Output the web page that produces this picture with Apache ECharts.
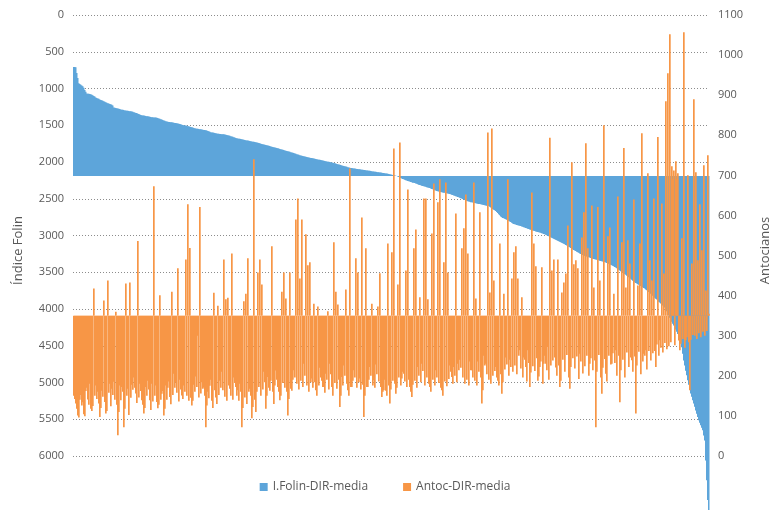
<!DOCTYPE html>
<html>
<head>
<meta charset="utf-8">
<script src="https://cdn.jsdelivr.net/npm/echarts@6/dist/echarts.min.js"></script>
<style>
  html, body { margin: 0; padding: 0; background: #fff; }
  #chart { width: 770px; height: 510px; }
</style>
</head>
<body>
<div id="chart"></div>
<script>
// I.Folin-DIR-media, samples ordered ascending (left axis, inverted)
var folin = [
  707, 707, 712, 790, 857, 930, 940, 950, 958, 970, 990, 1020, 1045, 1067, 1070, 1073, 1075, 1078, 1085, 1092,
  1102, 1110, 1122, 1130, 1136, 1140, 1148, 1155, 1160, 1165, 1172, 1180, 1188, 1195, 1200, 1205, 1210, 1215, 1222, 1230,
  1258, 1262, 1265, 1268, 1272, 1275, 1280, 1285, 1288, 1290, 1294, 1298, 1300, 1302, 1304, 1306, 1308, 1310, 1314, 1318,
  1323, 1328, 1332, 1335, 1342, 1348, 1354, 1360, 1363, 1366, 1368, 1370, 1373, 1376, 1379, 1382, 1385, 1388, 1390, 1392,
  1393, 1394, 1396, 1398, 1403, 1408, 1413, 1418, 1423, 1428, 1434, 1440, 1445, 1450, 1453, 1455, 1457, 1458, 1460, 1462,
  1465, 1468, 1471, 1474, 1477, 1480, 1484, 1488, 1492, 1496, 1499, 1502, 1505, 1508, 1512, 1515, 1520, 1524, 1528, 1532,
  1536, 1540, 1543, 1546, 1548, 1550, 1553, 1555, 1558, 1560, 1563, 1566, 1569, 1572, 1577, 1582, 1588, 1594, 1597, 1600,
  1603, 1606, 1609, 1612, 1614, 1616, 1618, 1620, 1621, 1622, 1624, 1626, 1629, 1632, 1636, 1640, 1644, 1648, 1652, 1656,
  1662, 1668, 1672, 1676, 1679, 1682, 1685, 1688, 1691, 1694, 1697, 1700, 1703, 1706, 1709, 1712, 1715, 1718, 1721, 1724,
  1726, 1728, 1732, 1735, 1738, 1742, 1746, 1750, 1754, 1758, 1762, 1765, 1768, 1772, 1776, 1780, 1784, 1788, 1792, 1796,
  1800, 1803, 1806, 1810, 1814, 1818, 1822, 1826, 1830, 1833, 1838, 1842, 1846, 1850, 1854, 1858, 1862, 1866, 1870, 1874,
  1879, 1884, 1888, 1893, 1898, 1902, 1907, 1912, 1915, 1918, 1922, 1925, 1928, 1932, 1935, 1938, 1941, 1944, 1947, 1950,
  1953, 1956, 1959, 1962, 1965, 1968, 1971, 1974, 1977, 1980, 1983, 1986, 1989, 1992, 1995, 1998, 2001, 2004, 2007, 2010,
  2014, 2018, 2022, 2026, 2030, 2034, 2038, 2042, 2046, 2050, 2054, 2058, 2062, 2066, 2070, 2074, 2077, 2080, 2083, 2086,
  2088, 2090, 2092, 2094, 2096, 2098, 2100, 2102, 2104, 2106, 2108, 2110, 2112, 2114, 2116, 2118, 2120, 2122, 2125, 2128,
  2130, 2132, 2134, 2136, 2138, 2140, 2142, 2144, 2146, 2148, 2150, 2152, 2155, 2158, 2161, 2164, 2167, 2170, 2173, 2176,
  2179, 2182, 2187, 2192, 2198, 2204, 2211, 2218, 2224, 2230, 2236, 2242, 2247, 2252, 2257, 2262, 2267, 2272, 2277, 2282,
  2284, 2286, 2291, 2296, 2302, 2308, 2313, 2318, 2322, 2326, 2330, 2334, 2338, 2342, 2346, 2350, 2355, 2360, 2366, 2372,
  2378, 2384, 2389, 2394, 2398, 2402, 2405, 2408, 2411, 2414, 2417, 2420, 2423, 2426, 2429, 2432, 2436, 2440, 2445, 2450,
  2455, 2460, 2465, 2470, 2475, 2480, 2486, 2492, 2498, 2504, 2510, 2516, 2522, 2528, 2533, 2538, 2542, 2546, 2549, 2552,
  2555, 2558, 2561, 2564, 2567, 2570, 2573, 2576, 2579, 2582, 2585, 2588, 2591, 2594, 2597, 2600, 2610, 2620, 2630, 2640,
  2648, 2655, 2668, 2680, 2695, 2710, 2725, 2740, 2751, 2762, 2767, 2772, 2778, 2785, 2792, 2800, 2808, 2816, 2826, 2836,
  2842, 2848, 2852, 2856, 2860, 2864, 2868, 2872, 2877, 2882, 2887, 2892, 2897, 2902, 2907, 2912, 2917, 2922, 2927, 2932,
  2936, 2940, 2944, 2948, 2952, 2956, 2960, 2964, 2969, 2974, 2979, 2984, 2990, 2996, 3003, 3010, 3017, 3024, 3030, 3036,
  3043, 3050, 3057, 3064, 3071, 3078, 3085, 3092, 3099, 3106, 3113, 3120, 3128, 3136, 3144, 3152, 3161, 3170, 3179, 3188,
  3196, 3204, 3212, 3220, 3228, 3236, 3244, 3252, 3259, 3266, 3271, 3276, 3281, 3286, 3291, 3296, 3301, 3306, 3311, 3316,
  3320, 3324, 3327, 3330, 3334, 3338, 3342, 3346, 3350, 3354, 3358, 3362, 3368, 3374, 3380, 3386, 3392, 3398, 3405, 3412,
  3420, 3428, 3437, 3446, 3456, 3466, 3476, 3486, 3496, 3506, 3515, 3524, 3535, 3546, 3557, 3568, 3579, 3590, 3602, 3614,
  3625, 3636, 3645, 3654, 3662, 3670, 3679, 3688, 3696, 3704, 3713, 3722, 3733, 3744, 3756, 3768, 3781, 3794, 3807, 3820,
  3833, 3846, 3859, 3872, 3886, 3900, 3913, 3926, 3939, 3952, 3965, 3978, 4004, 4030, 4060, 4090, 4120, 4150, 4175, 4200,
  4225, 4250, 4280, 4310, 4340, 4370, 4400, 4430, 4520, 4610, 4700, 4770, 4840, 4900, 4970, 5030, 5090, 5150, 5195, 5240,
  5285, 5330, 5380, 5425, 5470, 5515, 5548, 5580, 5615, 5650, 5720, 5790, 6060, 6330, 6600, 6900
];

// Antoc-DIR-media for the same samples (right axis)
var antoc = [
  150, 142, 131, 118, 101, 96, 140, 152, 126, 134, 104, 99, 162, 170, 141, 128, 180, 118, 112, 125,
  418, 150, 176, 142, 160, 131, 97, 120, 163, 148, 388, 135, 106, 112, 438, 158, 180, 124, 168, 152,
  185, 140, 360, 128, 52, 110, 176, 139, 172, 160, 72, 118, 430, 150, 168, 102, 433, 145, 178, 165,
  196, 170, 156, 132, 536, 146, 180, 162, 139, 128, 106, 120, 172, 150, 188, 166, 139, 115, 180, 136,
  673, 150, 176, 135, 119, 128, 401, 140, 155, 162, 101, 118, 176, 140, 170, 186, 147, 129, 410, 152,
  205, 170, 184, 158, 468, 136, 190, 166, 151, 142, 176, 160, 490, 150, 628, 138, 519, 145, 126, 138,
  178, 160, 198, 172, 300, 146, 621, 156, 184, 168, 171, 150, 72, 126, 160, 144, 175, 190, 138, 120,
  407, 164, 146, 130, 375, 152, 188, 170, 210, 164, 490, 148, 391, 138, 395, 176, 168, 150, 505, 140,
  196, 182, 172, 150, 164, 138, 180, 160, 72, 120, 386, 146, 405, 130, 493, 160, 168, 150, 94, 122,
  740, 140, 110, 160, 458, 172, 490, 150, 428, 166, 210, 184, 118, 150, 197, 170, 163, 188, 523, 160,
  130, 176, 213, 190, 172, 160, 139, 150, 410, 182, 458, 170, 393, 160, 101, 142, 458, 168, 163, 190,
  214, 196, 590, 180, 642, 166, 443, 188, 590, 172, 230, 200, 553, 176, 476, 160, 483, 184, 193, 170,
  380, 184, 164, 150, 373, 176, 220, 196, 188, 172, 172, 158, 205, 190, 361, 166, 230, 204, 172, 150,
  533, 182, 410, 168, 378, 190, 122, 150, 197, 176, 226, 200, 415, 180, 164, 150, 717, 172, 172, 188,
  214, 196, 493, 170, 458, 184, 193, 166, 595, 178, 97, 150, 518, 172, 172, 190, 222, 200, 380, 176,
  189, 170, 228, 204, 373, 186, 456, 172, 147, 160, 164, 190, 163, 150, 530, 176, 131, 166, 508, 188,
  767, 180, 155, 170, 428, 196, 782, 176, 193, 210, 205, 186, 463, 172, 665, 190, 172, 160, 147, 178,
  518, 188, 565, 170, 222, 200, 396, 184, 230, 212, 642, 176, 642, 196, 391, 180, 172, 160, 555, 190,
  680, 176, 214, 196, 633, 182, 690, 170, 164, 150, 483, 186, 682, 174, 458, 192, 226, 210, 197, 180,
  222, 200, 605, 184, 230, 214, 240, 220, 518, 196, 568, 180, 652, 190, 505, 176, 236, 214, 214, 196,
  682, 188, 393, 176, 236, 210, 608, 196, 131, 164, 250, 226, 230, 204, 807, 190, 408, 180, 817, 200,
  438, 212, 222, 196, 188, 176, 530, 204, 155, 184, 405, 216, 246, 228, 690, 200, 240, 222, 443, 210,
  508, 226, 523, 204, 443, 250, 264, 218, 396, 196, 246, 240, 222, 186, 264, 232, 172, 208, 657, 224,
  530, 212, 473, 244, 188, 198, 222, 236, 471, 180, 230, 250, 230, 214, 272, 190, 794, 226, 463, 238,
  490, 246, 221, 200, 490, 226, 172, 188, 408, 240, 433, 210, 455, 252, 575, 196, 168, 222, 733, 244,
  478, 218, 488, 248, 468, 192, 255, 236, 545, 206, 608, 224, 780, 250, 518, 200, 230, 244, 625, 214,
  420, 238, 72, 210, 621, 252, 438, 196, 155, 220, 825, 242, 205, 186, 548, 250, 570, 228, 230, 256,
  405, 232, 264, 200, 647, 250, 134, 214, 533, 240, 768, 196, 420, 258, 538, 222, 480, 246, 239, 210,
  640, 248, 106, 226, 425, 260, 530, 204, 805, 236, 255, 250, 264, 216, 705, 262, 488, 238, 438, 256,
  642, 262, 222, 278, 796, 250, 289, 270, 630, 258, 455, 282, 885, 266, 955, 274, 1052, 284, 723, 690,
  712, 276, 735, 690, 705, 288, 264, 280, 543, 292, 1057, 270, 289, 296, 700, 284, 164, 290, 480, 302,
  890, 300, 708, 292, 488, 306, 628, 296, 513, 310, 725, 300, 413, 312, 750, 355
];

// where the category axis crosses each value axis
var folinBase = 2190;
var antocBase = 350;

var categories = folin.map(function (v, i) { return i + 1; });

var labelFont = { color: '#595959', fontSize: 11, fontFamily: 'Open Sans' };
var nameFont = { color: '#595959', fontSize: 13, fontFamily: 'Open Sans', padding: [0, 30, 0, 0] };

// bars drawn from a crossing value instead of from 0; widen > 1 lets a bar spill onto its right neighbour
function barFrom(base, widen) {
  return function (params, api) {
    var x = api.value(0);
    var p = api.coord([x, api.value(1)]);
    var b = api.coord([x, base]);
    var w = api.coord([x + 1, base])[0] - b[0];
    return {
      type: 'rect',
      shape: {
        x: p[0] - w / 2,
        y: Math.min(p[1], b[1]),
        width: w * widen,
        height: Math.abs(b[1] - p[1])
      },
      style: { fill: api.visual('color') }
    };
  };
}

var chart = echarts.init(document.getElementById('chart'));
var option = {
  animation: false,
  grid: { left: 73, right: 61, top: 15, bottom: 54, outerBoundsMode: 'none', containLabel: false },
  legend: {
    data: [
      { name: 'I.Folin-DIR-media', icon: 'rect' },
      { name: 'Antoc-DIR-media', icon: 'rect' }
    ],
    left: 'center',
    top: 476,
    itemWidth: 8,
    itemHeight: 8,
    itemGap: 35,
    textStyle: { color: '#595959', fontSize: 12, fontFamily: 'Open Sans' }
  },
  xAxis: {
    type: 'category',
    data: categories,
    axisLine: { show: false },
    axisTick: { show: false },
    axisLabel: { show: false },
    splitLine: { show: false }
  },
  yAxis: [
    {
      type: 'value',
      inverse: true,
      min: 0,
      max: 6000,
      interval: 500,
      name: 'Índice Folin',
      nameLocation: 'middle',
      nameRotate: 90,
      nameGap: 48,
      nameTextStyle: nameFont,
      axisLine: { show: false },
      axisTick: { show: false },
      axisLabel: Object.assign({ margin: 9, formatter: function (v) { return String(v); } }, labelFont),
      splitLine: { lineStyle: { color: '#8c8c8c', type: [1, 2], width: 1 } }
    },
    {
      type: 'value',
      position: 'right',
      min: 0,
      max: 1100,
      interval: 100,
      name: 'Antocianos',
      nameLocation: 'middle',
      nameRotate: 90,
      nameGap: 50,
      nameTextStyle: nameFont,
      axisLine: { show: false },
      axisTick: { show: false },
      axisLabel: Object.assign({ margin: 9, formatter: function (v) { return String(v); } }, labelFont),
      splitLine: { show: false }
    }
  ],
  series: [
    {
      name: 'I.Folin-DIR-media',
      type: 'custom',
      yAxisIndex: 0,
      clip: false,
      itemStyle: { color: '#5da5da' },
      renderItem: barFrom(folinBase, 1.5),
      encode: { x: 0, y: 1 },
      data: folin.map(function (v, i) { return [i, v]; })
    },
    {
      name: 'Antoc-DIR-media',
      type: 'custom',
      yAxisIndex: 1,
      clip: false,
      itemStyle: { color: '#f79646' },
      renderItem: barFrom(antocBase, 1.7),
      encode: { x: 0, y: 1 },
      data: antoc.map(function (v, i) { return [i, v]; })
    }
  ]
};
chart.setOption(option);
</script>
</body>
</html>
